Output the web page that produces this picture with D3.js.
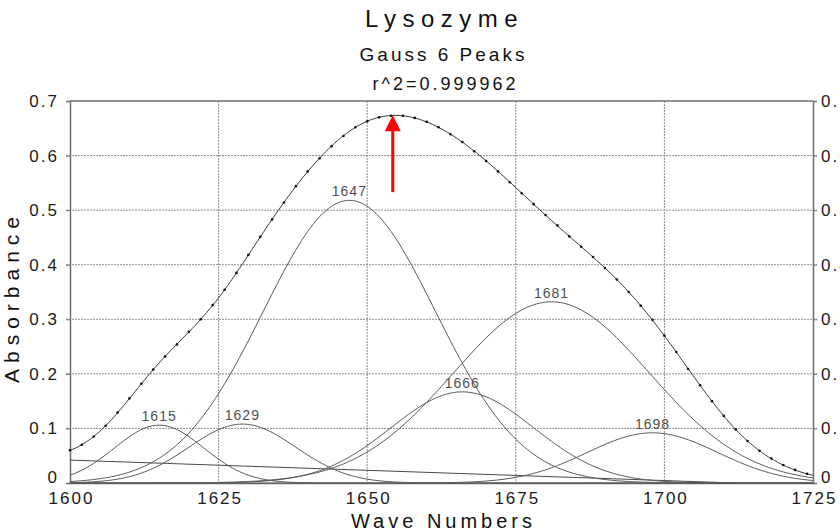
<!DOCTYPE html>
<html>
<head>
<meta charset="utf-8">
<script src="https://cdn.jsdelivr.net/npm/d3@7"></script>
<style>
  body { margin: 0; background: #fff; }
  svg { display: block; font-family: "Liberation Sans", Arial, sans-serif; }
</style>
</head>
<body>
<svg id="chart" width="840" height="532"></svg>
<script>
// Measured spectrum (wave number, absorbance)
const wavenumbers = [1600, 1602, 1604, 1606, 1608, 1610, 1612, 1614, 1616, 1618,
  1620, 1622, 1624, 1626, 1628, 1630, 1632, 1634, 1636, 1638,
  1640, 1642, 1644, 1646, 1648, 1650, 1652, 1654, 1656, 1658,
  1660, 1662, 1664, 1666, 1668, 1670, 1672, 1674, 1676, 1678,
  1680, 1682, 1684, 1686, 1688, 1690, 1692, 1694, 1696, 1698,
  1700, 1702, 1704, 1706, 1708, 1710, 1712, 1714, 1716, 1718,
  1720, 1722, 1724];
const absorbance = [0.060, 0.070, 0.085, 0.105, 0.129, 0.155, 0.182, 0.208, 0.232, 0.254,
  0.277, 0.300, 0.326, 0.354, 0.385, 0.418, 0.451, 0.483, 0.514, 0.544,
  0.571, 0.595, 0.617, 0.636, 0.652, 0.663, 0.670, 0.673, 0.673, 0.669,
  0.662, 0.652, 0.639, 0.625, 0.608, 0.590, 0.571, 0.551, 0.531, 0.511,
  0.491, 0.472, 0.452, 0.433, 0.414, 0.394, 0.373, 0.350, 0.325, 0.299,
  0.270, 0.240, 0.209, 0.179, 0.150, 0.123, 0.098, 0.077, 0.059, 0.045,
  0.033, 0.024, 0.017];

// Fitted Gaussian bands
const peakLabels  = ["1615", "1629", "1647", "1666", "1681", "1698"];
const peakCenters = [1615, 1629, 1647, 1666, 1681, 1698];
const peakHeights = [0.106, 0.108, 0.518, 0.167, 0.332, 0.092];
const peakSigmas  = [7.5, 9, 14.5, 12, 16.5, 11];

// Linear baseline of the fit
const baselineX = [1600, 1712];
const baselineY = [0.042, 0];

// Axis ticks
const xTicks = [1600, 1625, 1650, 1675, 1700, 1725];
const yTicks = [0, 0.1, 0.2, 0.3, 0.4, 0.5, 0.6, 0.7];
const yTickLabels = ["0", "0.1", "0.2", "0.3", "0.4", "0.5", "0.6", "0.7"];

// Arrow marking the band maximum
const arrowWave = 1654.3;
const arrowFrom = 0.533;
const arrowTo = 0.674;

const titleText = "Lysozyme";
const subtitleText = "Gauss 6 Peaks";
const fitText = "r^2=0.999962";

const svg = d3.select("#chart");
const x = d3.scaleLinear().domain([1600, 1725]).range([70, 813]);
const y = d3.scaleLinear().domain([0, 0.7]).range([483, 101]);

const gauss = (i, v) => peakHeights[i] * Math.exp(-((v - peakCenters[i]) ** 2) / (2 * peakSigmas[i] ** 2));
const baseline = v => v >= baselineX[1] ? 0 :
  baselineY[0] + (baselineY[1] - baselineY[0]) * (v - baselineX[0]) / (baselineX[1] - baselineX[0]);
const grid = d3.range(1600, 1725.001, 0.5);

// Grid lines
svg.append("g").selectAll("line").data(yTicks.filter(d => d > 0 && d < 0.7)).join("line")
  .attr("x1", x(1600) - 4).attr("x2", x(1725) + 4)
  .attr("y1", d => y(d)).attr("y2", d => y(d))
  .attr("stroke", "#8c8c8c").attr("stroke-width", 1).attr("stroke-dasharray", "2,1");
svg.append("g").selectAll("line").data(xTicks.filter(d => d > 1600 && d < 1725)).join("line")
  .attr("x1", d => x(d)).attr("x2", d => x(d))
  .attr("y1", y(0.7)).attr("y2", y(0))
  .attr("stroke", "#8c8c8c").attr("stroke-width", 1).attr("stroke-dasharray", "2,1");

// Frame and axes
const axisColor = "#6e6e6e";
const yAxisL = svg.append("g").attr("transform", `translate(${x(1600)},0)`)
  .call(d3.axisLeft(y).tickValues(yTicks).tickSize(4).tickPadding(7)
    .tickFormat((d, i) => yTickLabels[i]));
const yAxisR = svg.append("g").attr("transform", `translate(${x(1725)},0)`)
  .call(d3.axisRight(y).tickValues(yTicks).tickSize(4).tickPadding(4)
    .tickFormat((d, i) => yTickLabels[i]));
const xAxis = svg.append("g").attr("transform", `translate(0,${y(0)})`)
  .call(d3.axisBottom(x).tickValues(xTicks).tickSize(0).tickPadding(8)
    .tickFormat(d3.format("d")));
[yAxisL, yAxisR, xAxis].forEach(g => {
  g.select(".domain").attr("stroke", axisColor).attr("stroke-width", 1.5);
  g.selectAll(".tick line").attr("stroke", axisColor);
  g.selectAll("text").attr("fill", "#1a1a1a").attr("font-size", 17)
    .attr("font-family", "'Liberation Sans', Arial, sans-serif")
    .style("letter-spacing", "2px");
});
// the zero labels sit just above the bottom axis
[yAxisL, yAxisR].forEach(g => g.selectAll(".tick").filter(d => d === 0)
  .select("text").attr("y", -6));
xAxis.selectAll("text").attr("dx", "1px").attr("dy", "0.75em");
svg.append("line").attr("x1", x(1600)).attr("x2", x(1725))
  .attr("y1", y(0.7)).attr("y2", y(0.7))
  .attr("stroke", axisColor).attr("stroke-width", 1.5);

// Baseline
svg.append("line")
  .attr("x1", x(baselineX[0])).attr("y1", y(baselineY[0]))
  .attr("x2", x(baselineX[1])).attr("y2", y(baselineY[1]))
  .attr("stroke", "#4a4a4a").attr("stroke-width", 1);

// Component bands
const line = d3.line().x(d => x(d[0])).y(d => y(d[1])).curve(d3.curveLinear);
peakCenters.forEach((c, i) => {
  svg.append("path")
    .attr("d", line(grid.map(v => [v, gauss(i, v)])))
    .attr("fill", "none").attr("stroke", "#5a5a5a").attr("stroke-width", 1);
  svg.append("text")
    .attr("x", x(c)).attr("y", y(peakHeights[i]) - 4)
    .attr("text-anchor", "middle").attr("font-size", 14)
    .attr("fill", "#505050").style("letter-spacing", "1px")
    .text(peakLabels[i]);
});

// Sum of bands plus baseline
svg.append("path")
  .attr("d", line(grid.map(v => [v, peakCenters.reduce((s, c, i) => s + gauss(i, v), 0) + baseline(v)])))
  .attr("fill", "none").attr("stroke", "#3a3a3a").attr("stroke-width", 1);

// Measured points
svg.append("g").selectAll("circle").data(wavenumbers).join("circle")
  .attr("cx", d => x(d)).attr("cy", (d, i) => y(absorbance[i]))
  .attr("r", 1.3).attr("fill", "#111");

// Red arrow
const ax = x(arrowWave);
svg.append("line").attr("x1", ax).attr("x2", ax)
  .attr("y1", y(arrowFrom)).attr("y2", y(arrowTo) + 14)
  .attr("stroke", "#ff0000").attr("stroke-width", 3);
svg.append("path")
  .attr("d", `M${ax - 8},${y(arrowTo) + 16} L${ax + 8},${y(arrowTo) + 16} L${ax},${y(arrowTo)} Z`)
  .attr("fill", "#ff0000");

// Titles
const cx = (x(1600) + x(1725)) / 2;
svg.append("text").attr("x", cx + 3).attr("y", 27).attr("text-anchor", "middle")
  .attr("font-size", 24).attr("fill", "#111").style("letter-spacing", "6.5px").text(titleText);
svg.append("text").attr("x", cx + 2).attr("y", 61).attr("text-anchor", "middle")
  .attr("font-size", 19).attr("fill", "#111").style("letter-spacing", "3px").text(subtitleText);
svg.append("text").attr("x", cx + 4).attr("y", 90).attr("text-anchor", "middle")
  .attr("font-size", 18).attr("fill", "#111").style("letter-spacing", "3px").text(fitText);

// Axis titles
svg.append("text").attr("x", cx + 2).attr("y", 528).attr("text-anchor", "middle")
  .attr("font-size", 20).attr("fill", "#111").style("letter-spacing", "4px").text("Wave Numbers");
svg.append("text").attr("transform", "translate(19,297) rotate(-90)").attr("text-anchor", "middle")
  .attr("font-size", 21).attr("fill", "#111").style("letter-spacing", "6px").text("Absorbance");
</script>
</body>
</html>
